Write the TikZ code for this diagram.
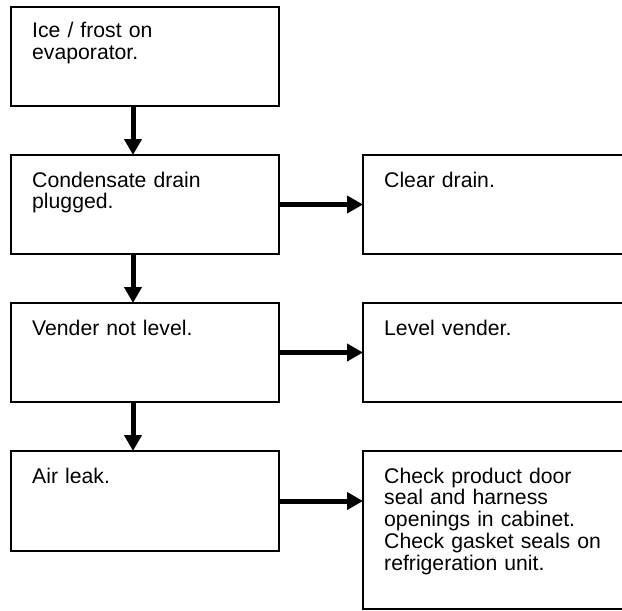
\documentclass[tikz,border=0pt]{standalone}
\usepackage{fontspec}
\setmainfont{Liberation Sans}
\usetikzlibrary{arrows.meta}
\begin{document}
\begin{tikzpicture}[x=1pt,y=-1pt,
  box/.style={draw, line width=2pt, inner sep=0pt, outer sep=0pt, anchor=north west},
  lbox/.style={box, minimum width=268pt},
  rbox/.style={box, minimum width=272pt},
  lbl/.style={anchor=base west, inner sep=0pt, align=left, text width=250pt,
              font=\fontsize{21.2}{21.8}\selectfont},
  arr/.style={line width=5pt, -{Triangle[length=16pt,width=17pt]}}]
\useasboundingbox (0,0) rectangle (622,611);
\clip (0,0) rectangle (622,611);
% left column
\node[lbox, minimum height=99pt]  (b1) at (11,7)   {};
\node[lbox, minimum height=99pt]  (b2) at (11,155) {};
\node[lbox, minimum height=99pt]  (b3) at (11,303) {};
\node[lbox, minimum height=100pt] (b4) at (11,451) {};
% right column
\node[rbox, minimum height=99pt]    (r1) at (363,155) {};
\node[rbox, minimum height=99pt]    (r2) at (363,303) {};
\node[rbox, minimum height=157.5pt] (r3) at (363,451) {};
% texts
\node[lbl] (t1) at ([shift={(21,30.5)}]b1.north west) {Ice / frost on\\evaporator.};
\node[lbl] (t2) at ([shift={(21,32)}]b2.north west) {Condensate drain\\plugged.};
\node[lbl] (t3) at ([shift={(21,32)}]b3.north west) {Vender not level.};
\node[lbl] (t4) at ([shift={(21,32)}]b4.north west) {Air leak.};
\node[lbl] (u1) at ([shift={(21,32)}]r1.north west) {Clear drain.};
\node[lbl] (u2) at ([shift={(21,32)}]r2.north west) {Level vender.};
\node[lbl] (u3) at ([shift={(21,32)}]r3.north west) {Check product door\\seal and harness\\openings in cabinet.\\Check gasket seals on\\refrigeration unit.};
% connectors
\draw[arr] ([xshift=122pt]b1.south west) -- ([xshift=122pt]b2.north west);
\draw[arr] ([xshift=122pt]b2.south west) -- ([xshift=122pt]b3.north west);
\draw[arr] ([xshift=122pt]b3.south west) -- ([xshift=122pt]b4.north west);
\draw[arr] (b2.east) -- (b2.east -| r1.west);
\draw[arr] (b3.east) -- (b3.east -| r2.west);
\draw[arr] (b4.east) -- (b4.east -| r3.west);
\end{tikzpicture}
\end{document}
